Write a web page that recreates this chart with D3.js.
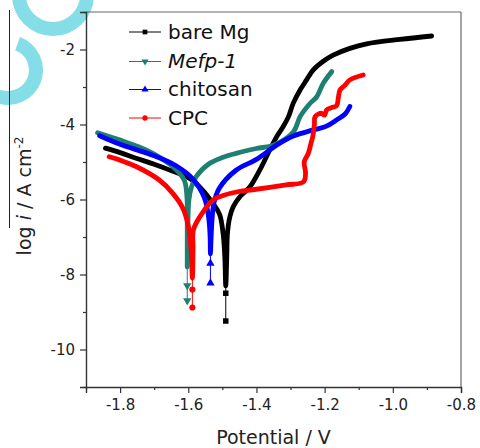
<!DOCTYPE html>
<html><head><meta charset="utf-8">
<script src="https://cdn.jsdelivr.net/npm/d3@7"></script>
<style>body{margin:0;background:#fff}svg{display:block}text{font-family:"DejaVu Sans",sans-serif}</style>
</head><body><svg id="c" width="480" height="448"></svg>
<script>
// ---- data (Potential / V, log i) ----
const seriesNames = ["bare Mg","Mefp-1","chitosan","CPC"];
const seriesColors = ["#000000","#1e8070","#0000ff","#ff0000"];
const seriesSymbols = ["square","triangleDown","triangle","circle"];

const bareMg = [[-1.843,-4.63],[-1.80,-4.75],[-1.753,-4.9],[-1.70,-5.06],[-1.656,-5.21],[-1.597,-5.43],[-1.558,-5.75],[-1.528,-6.1],[-1.508,-6.4],[-1.498,-6.9],[-1.493,-7.5],[-1.490,-8.3],
  [-1.487,-7.5],[-1.485,-6.9],[-1.478,-6.46],[-1.468,-6.19],[-1.448,-5.92],[-1.419,-5.66],[-1.39,-5.21],[-1.366,-4.77],[-1.341,-4.33],[-1.322,-4.06],[-1.306,-3.79],[-1.292,-3.43],[-1.272,-3.08],[-1.253,-2.81],[-1.234,-2.55],[-1.205,-2.32],[-1.175,-2.15],[-1.126,-1.97],[-1.077,-1.85],[-0.979,-1.73],[-0.886,-1.64]];
const mefp1 = [[-1.866,-4.22],[-1.802,-4.41],[-1.75,-4.58],[-1.704,-4.77],[-1.646,-5.12],[-1.612,-5.48],[-1.604,-5.92],[-1.603,-6.6],[-1.603,-7.8],
  [-1.601,-6.6],[-1.598,-6.0],[-1.59,-5.65],[-1.577,-5.39],[-1.538,-5.04],[-1.50,-4.88],[-1.46,-4.77],[-1.40,-4.64],[-1.35,-4.55],[-1.292,-4.2],[-1.272,-3.79],[-1.243,-3.44],[-1.223,-3.26],[-1.204,-2.9],[-1.179,-2.59]];
const chitosan = [[-1.86,-4.3],[-1.802,-4.52],[-1.704,-4.82],[-1.636,-5.1],[-1.587,-5.45],[-1.553,-5.95],[-1.54,-6.5],[-1.536,-7.0],[-1.535,-7.45],
  [-1.533,-7.0],[-1.53,-6.5],[-1.525,-6.1],[-1.509,-5.7],[-1.46,-5.22],[-1.40,-4.93],[-1.341,-4.55],[-1.29,-4.3],[-1.235,-4.15],[-1.196,-4.05],[-1.165,-3.88],[-1.14,-3.72],[-1.126,-3.52]];
const cpc = [[-1.832,-4.86],[-1.80,-4.95],[-1.753,-5.12],[-1.685,-5.48],[-1.646,-5.83],[-1.616,-6.23],[-1.60,-6.7],[-1.592,-7.3],[-1.588,-8.1],
  [-1.586,-7.3],[-1.585,-6.81],[-1.566,-6.46],[-1.527,-6.01],[-1.50,-5.9],[-1.448,-5.78],[-1.411,-5.74],[-1.313,-5.61],[-1.262,-5.53],[-1.256,-5.3],[-1.26,-5.0],[-1.248,-4.77],[-1.24,-4.5],[-1.235,-4.33],[-1.23,-4.0],[-1.228,-3.79],[-1.21,-3.7],[-1.20,-3.75],[-1.194,-3.61],[-1.18,-3.55],[-1.165,-3.5],[-1.16,-3.3],[-1.155,-3.08],[-1.14,-2.95],[-1.126,-2.81],[-1.087,-2.68]];
// sparse points at the corrosion-potential tips
const bareMgTip = [[-1.490,-8.3],[-1.490,-8.5],[-1.490,-9.24]];
const mefp1Tip = [[-1.603,-7.8],[-1.603,-8.3],[-1.603,-8.7]];
const chitosanTip = [[-1.535,-7.45],[-1.535,-7.7],[-1.535,-8.23]];
const cpcTip = [[-1.588,-8.1],[-1.588,-8.4],[-1.588,-8.88]];

const xMajor = [-1.8,-1.6,-1.4,-1.2,-1.0,-0.8];
const xMinor = [-1.9,-1.7,-1.5,-1.3,-1.1,-0.9];
const yMajor = [-10,-8,-6,-4,-2];
const yMinor = [-11,-9,-7,-5,-3,-1];
const xTitle = "Potential / V";

const curves = [bareMg, mefp1, chitosan, cpc];
const tips = [bareMgTip, mefp1Tip, chitosanTip, cpcTip];

// ---- layout ----
const svg = d3.select("#c");
const L=86, R=461, T=12, B=387;
const x = d3.scaleLinear().domain([-1.9,-0.8]).range([L,R]);
const y = d3.scaleLinear().domain([-11,-1]).range([B,T]);

// watermark decoration
const wm = svg.append("g").attr("fill","#7fdde6").attr("opacity",0.95);
wm.append("path").attr("transform","translate(53,-5)")
  .attr("d", d3.arc()({innerRadius:27,outerRadius:41,startAngle:0,endAngle:2*Math.PI}));
wm.append("path").attr("transform","translate(8,70)")
  .attr("d", d3.arc()({innerRadius:21,outerRadius:35,startAngle:0.35,endAngle:3.5}));
svg.append("line").attr("x1",9.5).attr("x2",9.5).attr("y1",10).attr("y2",228).attr("stroke","#222").attr("stroke-width",1);

// frame
svg.append("line").attr("x1",L).attr("x2",R).attr("y1",T).attr("y2",T).attr("stroke","#666").attr("stroke-width",1.2);
svg.append("line").attr("x1",R).attr("x2",R).attr("y1",T).attr("y2",B).attr("stroke","#666").attr("stroke-width",1.2);

// axes
const fmtX = d => d.toFixed(1);
svg.append("g").attr("transform",`translate(0,${B})`)
  .call(d3.axisBottom(x).tickValues(xMajor).tickFormat(fmtX).tickSize(6).tickPadding(6));
svg.append("g").attr("transform",`translate(0,${B})`)
  .call(d3.axisBottom(x).tickValues(xMinor).tickFormat("").tickSize(3))
  .call(g=>g.select(".domain").remove());
svg.append("g").attr("transform",`translate(${L},0)`)
  .call(d3.axisLeft(y).tickValues(yMajor).tickFormat(d=>String(d)).tickSize(6).tickPadding(5));
svg.append("g").attr("transform",`translate(${L},0)`)
  .call(d3.axisLeft(y).tickValues(yMinor).tickFormat("").tickSize(3))
  .call(g=>g.select(".domain").remove());
svg.selectAll(".domain").attr("stroke","#333").attr("stroke-width",1.4);
svg.selectAll(".tick line").attr("stroke","#333").attr("stroke-width",1.2);
svg.selectAll(".tick text").attr("font-family","DejaVu Sans").attr("font-size",15).attr("fill","#222");

// axis titles
svg.append("text").attr("x",(L+R)/2).attr("y",444).attr("text-anchor","middle")
  .attr("font-size",19).attr("fill","#222").text(xTitle);
const yl = svg.append("text").attr("transform","translate(31,196) rotate(-90)")
  .attr("text-anchor","middle").attr("font-size",19).attr("fill","#222");
yl.append("tspan").text("log ");
yl.append("tspan").attr("font-style","italic").text("i");
yl.append("tspan").text(" / A cm");
yl.append("tspan").attr("font-size",12).attr("dy",-8).text("-2");

// curves
const line = d3.line().x(d=>x(d[0])).y(d=>y(d[1])).curve(d3.curveLinear);
const smooth = d3.line().x(d=>x(d[0])).y(d=>y(d[1])).curve(d3.curveCatmullRom.alpha(0.5));
const symType = {square:d3.symbolSquare, triangle:d3.symbolTriangle, triangleDown:d3.symbolTriangle, circle:d3.symbolCircle};
const plot = svg.append("g");
curves.forEach((c,i)=>{
  plot.append("path").attr("d",line(tips[i])).attr("fill","none")
    .attr("stroke",seriesColors[i]).attr("stroke-width",1);
  plot.append("path").attr("d",smooth(c)).attr("fill","none")
    .attr("stroke",seriesColors[i]).attr("stroke-width",4.8)
    .attr("stroke-linejoin","round").attr("stroke-linecap","round");
  const sym = d3.symbol().type(symType[seriesSymbols[i]]).size(30);
  plot.selectAll(null).data(tips[i].slice(1)).join("path")
    .attr("d",sym)
    .attr("transform",d=>`translate(${x(d[0])},${y(d[1])})${seriesSymbols[i]==="triangleDown"?" rotate(180)":""}`)
    .attr("fill",seriesColors[i]);
});

// legend
const rows=[32,61.5,89.5,118];
const lg = svg.append("g");
seriesNames.forEach((n,i)=>{
  const ry = rows[i];
  lg.append("line").attr("x1",129).attr("x2",161).attr("y1",ry).attr("y2",ry)
    .attr("stroke",seriesColors[i]).attr("stroke-width",1);
  const sym = d3.symbol().type(symType[seriesSymbols[i]]).size(22);
  lg.append("path").attr("d",sym)
    .attr("transform",`translate(145,${ry})${seriesSymbols[i]==="triangleDown"?" rotate(180)":""}`)
    .attr("fill",seriesColors[i]);
  lg.append("text").attr("x",168).attr("y",ry+6.5).attr("font-size",20).attr("fill","#111")
    .attr("font-style", n==="Mefp-1"?"italic":"normal").text(n);
});
</script></body></html>
